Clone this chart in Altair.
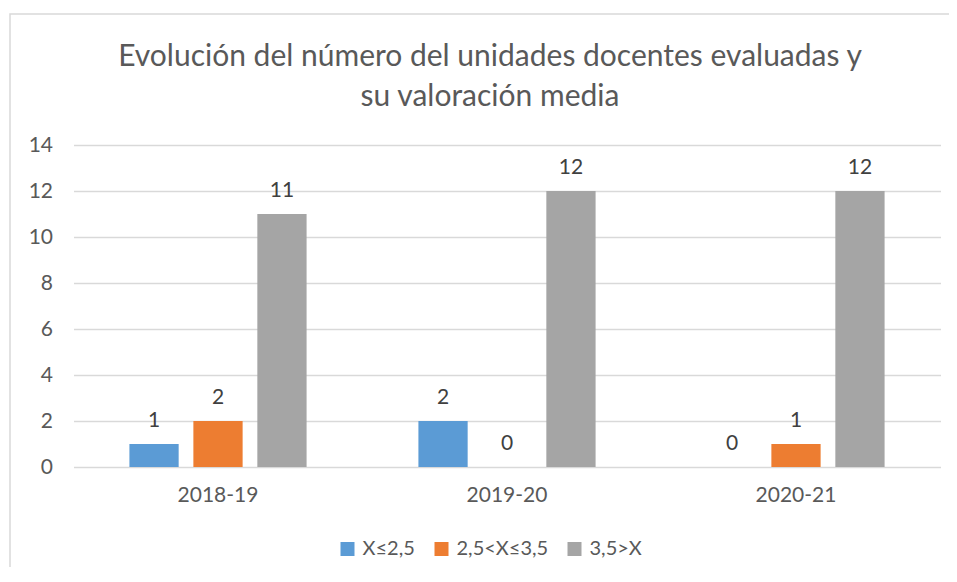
import altair as alt
import pandas as pd

years = ["2018-19", "2019-20", "2020-21"]
series = ["X≤2,5", "2,5<X≤3,5", "3,5>X"]
colors = ["#5B9BD5", "#ED7D31", "#A5A5A5"]
values = {
    "X≤2,5": [1, 2, 0],
    "2,5<X≤3,5": [2, 0, 1],
    "3,5>X": [11, 12, 12],
}

rows = []
for s in series:
    for y, v in zip(years, values[s]):
        rows.append({"year": y, "serie": s, "valor": v})
df = pd.DataFrame(rows)

FONT = "Lato"
FS = 21

x_enc = alt.X("year:N", sort=years, title=None,
              scale=alt.Scale(paddingInner=0.336, paddingOuter=0.168),
              axis=alt.Axis(labelAngle=0, domain=False, ticks=False, labelPadding=17,
                            labelFontSize=FS, labelColor="#595959", labelFont=FONT))
xo_enc = alt.XOffset("serie:N", sort=series,
                     scale=alt.Scale(paddingInner=0.23, paddingOuter=0.115))

base = alt.Chart(df)

bars = base.mark_bar().encode(
    x=x_enc,
    xOffset=xo_enc,
    y=alt.Y("valor:Q", title=None,
            scale=alt.Scale(domain=[0, 14]),
            axis=alt.Axis(values=[0, 2, 4, 6, 8, 10, 12, 14], domain=False, ticks=False,
                          labelPadding=21, labelFontSize=FS, labelColor="#595959",
                          labelFont=FONT, gridColor="#D9D9D9", gridWidth=1.3)),
    color=alt.Color("serie:N", sort=series,
                    scale=alt.Scale(domain=series, range=colors),
                    legend=alt.Legend(title=None, orient="none", direction="horizontal",
                                      legendX=264, legendY=394,
                                      symbolType="square", symbolSize=196,
                                      symbolStrokeWidth=0, labelFontSize=20,
                                      labelColor="#595959", labelFont=FONT,
                                      columnPadding=16, labelOffset=5)),
)

labels = base.mark_text(baseline="alphabetic", dy=-17, fontSize=FS,
                        color="#404040", font=FONT).encode(
    x=alt.X("year:N", sort=years),
    xOffset=alt.XOffset("serie:N", sort=series),
    y="valor:Q",
    text="valor:Q",
)

frame_df = pd.DataFrame({"k": [0]})
frame = alt.Chart(frame_df).mark_rect(fill=None, stroke="#D9D9D9", strokeWidth=1.5).encode(
    x=alt.value(-63.5), x2=alt.value(1000), y=alt.value(-131), y2=alt.value(640)
)

chart = alt.layer(frame, bars, labels).properties(
    width=867, height=322,
    title=alt.TitleParams(
        text=["Evolución del número del unidades docentes evaluadas y", "su valoración media"],
        anchor="middle", fontSize=30, font=FONT, fontWeight="normal",
        color="#595959", lineHeight=40, offset=38, frame="group", dy=137, dx=-17,
    ),
    autosize=alt.AutoSizeParams(type="none"),
    padding={"left": 65.5, "top": 137, "right": 8, "bottom": 100},
).configure_view(stroke=None).configure_axisY(grid=True).configure_axisX(grid=False)

chart.save("out.html", embed_options={"renderer": "svg", "actions": False})
